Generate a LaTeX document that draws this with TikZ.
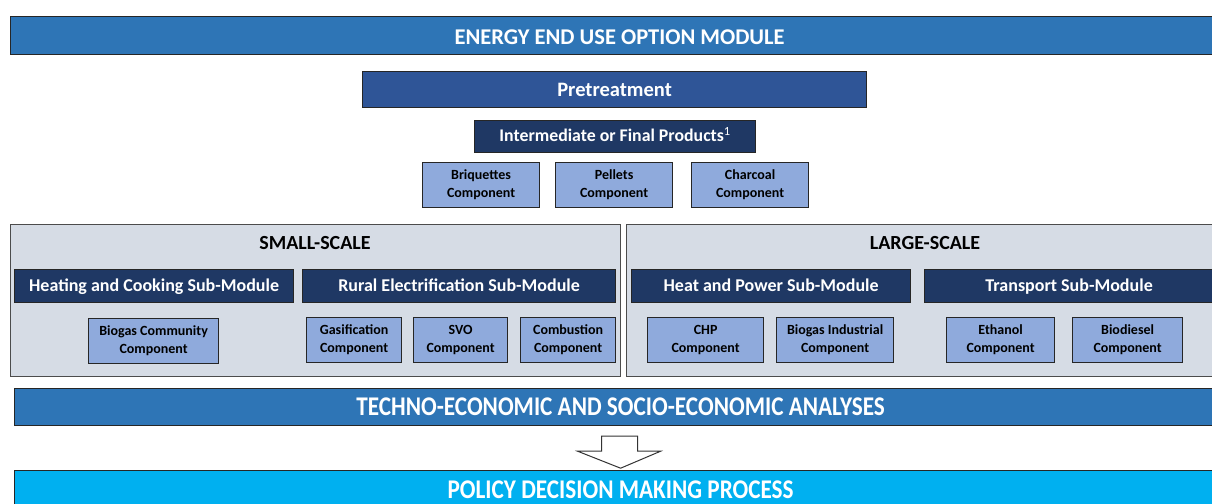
\documentclass[tikz,border=0pt]{standalone}
\usepackage{fontspec}
\usepackage{graphicx}
\setmainfont{Carlito}
\usetikzlibrary{calc}
\definecolor{topblue}{HTML}{2E75B6}
\definecolor{pretblue}{HTML}{2F5597}
\definecolor{darkblue}{HTML}{1F3864}
\definecolor{compblue}{HTML}{8FAADC}
\definecolor{panelgray}{HTML}{D6DCE5}
\definecolor{policyblue}{HTML}{00B0F0}
\definecolor{edge}{HTML}{262626}
\tikzset{
  base/.style={draw=edge, line width=1.2pt, anchor=north west, inner sep=0pt, align=center, font=\bfseries},
  topbar/.style={base, text height=22.6pt, text depth=4.5pt, fill=topblue, text=white, font=\bfseries\fontsize{22.5}{26}\selectfont},
  pretbox/.style={base, text height=17.3pt, text depth=4.1pt, fill=pretblue, text=white, font=\bfseries\fontsize{20.5}{24}\selectfont},
  darkbox/.style={base, text height=13.7pt, text depth=3.6pt, fill=darkblue, text=white, font=\bfseries\fontsize{18}{21}\selectfont},
  compbox/.style={base, fill=compblue, text=black, font=\bfseries\fontsize{14}{18}\selectfont},
  panel/.style={base, fill=panelgray, draw=black!70},
  paneltitle/.style={inner sep=0pt, font=\bfseries\fontsize{20}{24}\selectfont},
  wide/.style={base, text height=21.5pt, text depth=5.4pt, text=white},
  blockarrow/.style={draw=black!80, line width=1pt, fill=white, line join=miter},
}
\newcommand{\twoline}[2]{\raisebox{-2pt}[0pt][0pt]{\begin{tabular}{@{}c@{}}#1\\[-1pt]#2\end{tabular}}\rule[-17pt]{0pt}{17pt}}
\begin{document}
\begin{tikzpicture}[x=1pt,y=-1pt]
\useasboundingbox (0,0) rectangle (1212,503);
\clip (0,0) rectangle (1212,503);
\fill[white] (0,0) rectangle (1212,503);
% top
\node[topbar, minimum width=1230, minimum height=38] (top) at (10,16) {\hspace*{-12pt}ENERGY END USE OPTION MODULE};
\node[pretbox, minimum width=504, minimum height=36] (pret) at (362,71) {Pretreatment};
\node[darkbox, minimum width=281, minimum height=32, font=\bfseries\fontsize{17.8}{21}\selectfont] (inter) at (474,120) {Intermediate or Final Products\textsuperscript{\mdseries 1}};
\node[compbox, minimum width=117, minimum height=45] (briq) at (422,162) {Briquettes\\Component};
\node[compbox, minimum width=117, minimum height=45] (pell) at (555,162) {Pellets\\Component};
\node[compbox, minimum width=117, minimum height=45] (char) at (691,162) {Charcoal\\Component};
% panels
\node[panel, minimum width=610, minimum height=152] (small) at (10,224) {};
\node[panel, minimum width=600, minimum height=152] (large) at (626,224) {};
\node[paneltitle] (smalltitle) at (315,243) {SMALL-SCALE};
\node[paneltitle] (largetitle) at (925,243) {LARGE-SCALE};
% sub-modules
\node[darkbox, minimum width=279, minimum height=33] (heat) at (14,269) {Heating and Cooking Sub-Module};
\node[darkbox, minimum width=313, minimum height=33] (rural) at (302,269) {Rural Electrification Sub-Module};
\node[darkbox, minimum width=279, minimum height=33] (hp) at (631,269) {Heat and Power Sub-Module};
\node[darkbox, minimum width=289, minimum height=33] (trans) at (924,269) {Transport Sub-Module};
% components
\node[compbox, minimum width=130, minimum height=45] (biocom) at (88,318) {Biogas Community\\Component};
\node[compbox, minimum width=95, minimum height=45] (gas) at (306,317) {Gasification\\Component};
\node[compbox, minimum width=94, minimum height=45] (svo) at (413,317) {SVO\\Component};
\node[compbox, minimum width=95, minimum height=45] (comb) at (520,317) {Combustion\\Component};
\node[compbox, minimum width=116, minimum height=45] (chp) at (647,317) {CHP\\Component};
\node[compbox, minimum width=117, minimum height=45] (bioind) at (776,317) {Biogas Industrial\\Component};
\node[compbox, minimum width=108, minimum height=45] (eth) at (946,317) {Ethanol\\Component};
\node[compbox, minimum width=110, minimum height=45] (biod) at (1072,317) {Biodiesel\\Component};
% bottom
\node[wide, fill=topblue, minimum width=1216, minimum height=37] (tech) at (14,388) {\hspace*{-4pt}\scalebox{0.86}[1]{\bfseries\fontsize{27}{30}\selectfont TECHNO-ECONOMIC AND SOCIO-ECONOMIC ANALYSES}};
\node[wide, fill=policyblue, minimum width=1216, minimum height=40] (policy) at (14,470) {\hspace*{-4pt}\scalebox{0.86}[1]{\bfseries\fontsize{27}{30}\selectfont POLICY DECISION MAKING PROCESS}};
% block arrow
\coordinate (a0) at ($(tech.south)+(-2,0)$);
\draw[blockarrow] ($(a0)+(-19,10)$) -- ($(a0)+(17,10)$) -- ($(a0)+(17,25)$) -- ($(a0)+(40,25)$) -- ($(a0)+(0,42)$) -- ($(a0)+(-43,25)$) -- ($(a0)+(-19,25)$) -- cycle;
\end{tikzpicture}
\end{document}
